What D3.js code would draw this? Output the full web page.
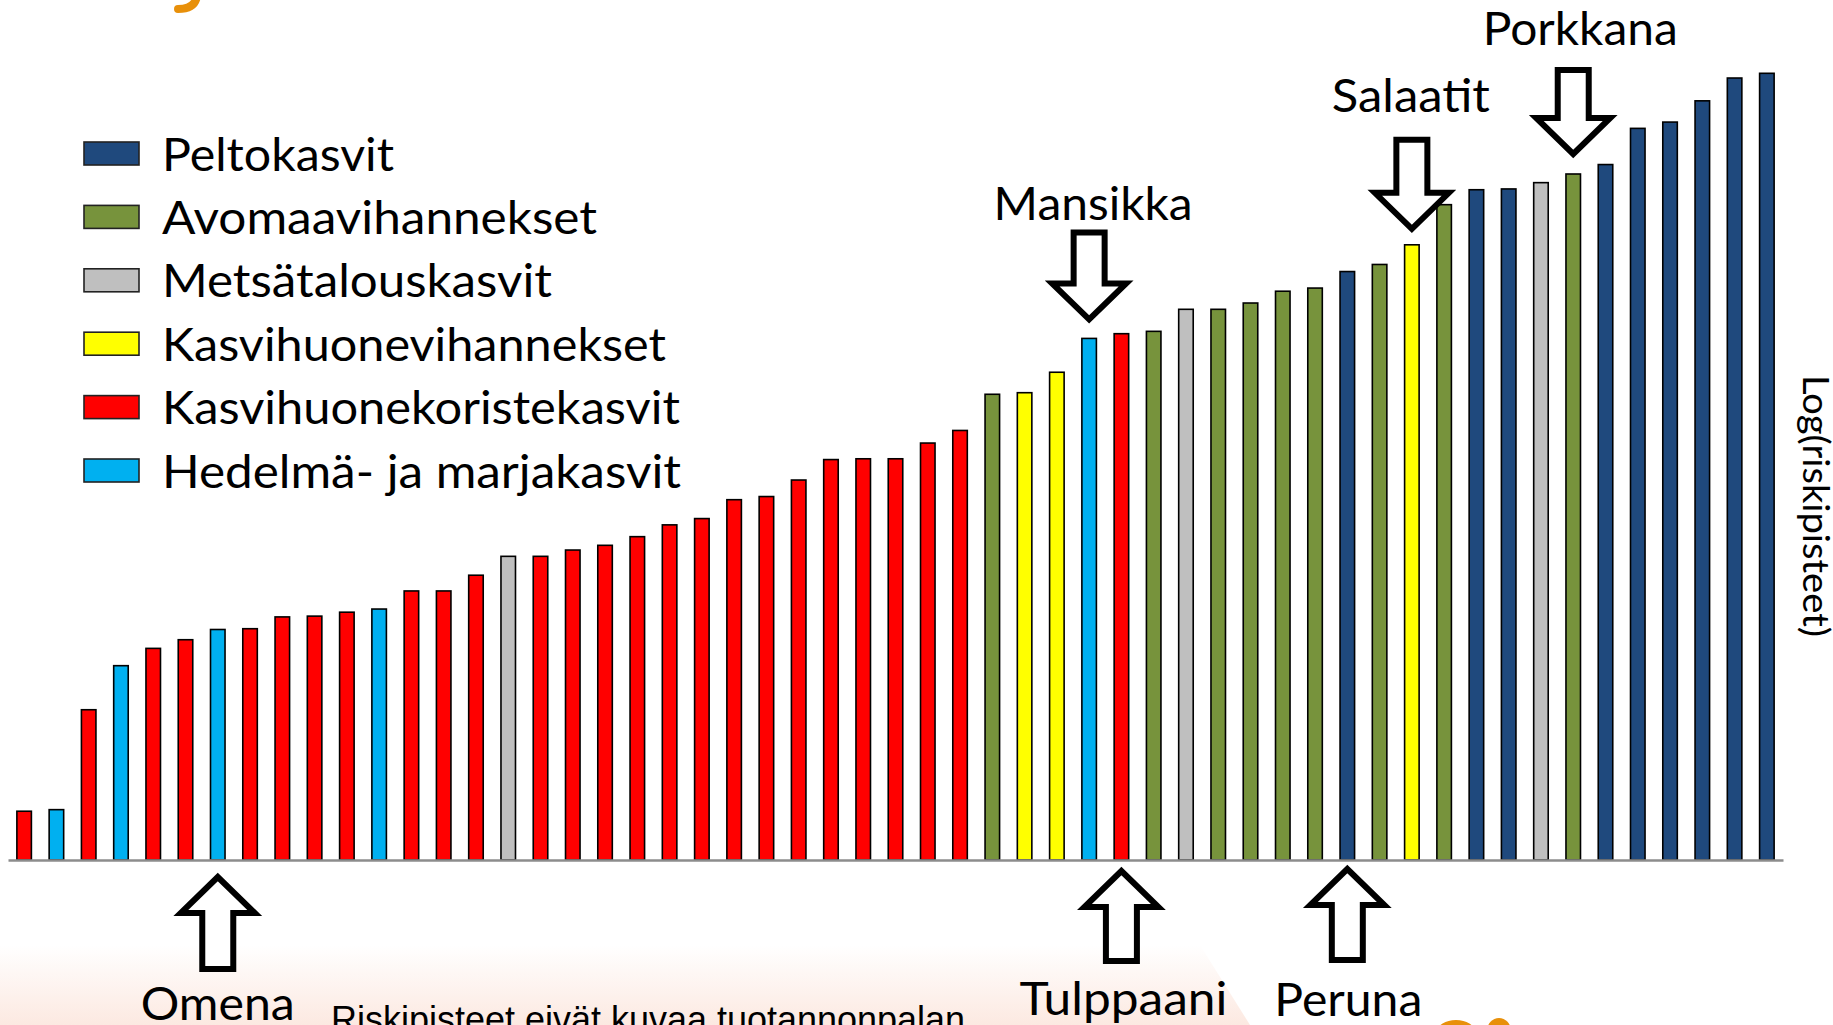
<!DOCTYPE html>
<html><head><meta charset="utf-8">
<script src="https://cdn.jsdelivr.net/npm/d3@7"></script>
<style>html,body{margin:0;padding:0;background:#fff;overflow:hidden}</style>
</head><body>
<svg id="chart" width="1833" height="1025"></svg>
<script>
// ---------- data ----------
const categories = ["Peltokasvit","Avomaavihannekset","Metsätalouskasvit","Kasvihuonevihannekset","Kasvihuonekoristekasvit","Hedelmä- ja marjakasvit"];
const categoryColors = ["#1F497D","#77933C","#BFBFBF","#FFFF00","#FF0000","#00B0F0"];
// category index of every bar (left to right)
const barCategory = [4,5,4,5,4,4,5,4,4,4,4,5,4,4,4,2,4,4,4,4,4,4,4,4,4,4,4,4,4,4,
                     1,3,3,5,4,1,2,1,1,1,1,0,1,3,1,0,0,2,1,0,0,0,0,0,0];
// log(riskipisteet), relative units (highest = 100)
const barValues = [6.2,6.4,19.1,24.7,26.9,28.0,29.3,29.4,30.9,31.0,
                   31.5,31.9,34.2,34.2,36.2,38.6,38.6,39.4,40.0,41.1,
                   42.6,43.4,45.8,46.2,48.3,50.9,51.0,51.0,53.0,54.6,
                   59.2,59.4,62.0,66.3,66.9,67.2,70.0,70.0,70.8,72.3,
                   72.7,74.8,75.7,78.2,83.3,85.2,85.3,86.1,87.2,88.4,
                   93.0,93.8,96.5,99.4,100.0];
const annotationLabels = ["Omena","Mansikka","Tulppaani","Peruna","Salaatit","Porkkana"];
const annotationBars = [6,33,34,41,43,48];
const annotationDirections = ["up","down","up","up","down","down"];
const yAxisTitle = "Log(riskipisteet)";
const footnote = "Riskipisteet eivät kuvaa tuotannonpalan";

// ---------- layout ----------
const W = 1833, H = 1025;
const svg = d3.select("#chart");
const FONT = "Lato, 'Open Sans', sans-serif";

const defs = svg.append("defs");
const grad = defs.append("linearGradient").attr("id","pinkGrad").attr("x1",0).attr("y1",0).attr("x2",0).attr("y2",1);
grad.append("stop").attr("offset","0%").attr("stop-color","#ffffff");
grad.append("stop").attr("offset","100%").attr("stop-color","#fce9e1");

svg.append("rect").attr("width",W).attr("height",H).attr("fill","#fff");
svg.append("path").attr("d","M0,945 L1200,945 L1250,1025 L0,1025 Z").attr("fill","url(#pinkGrad)");

// decorative orange fragments (slide template)
svg.append("path").attr("d","M197,-4 Q195,9 178,9").attr("fill","none").attr("stroke","#E8900A").attr("stroke-width",8).attr("stroke-linecap","round");
svg.append("ellipse").attr("cx",1456).attr("cy",1032).attr("rx",19).attr("ry",12).attr("fill","#E8900A");
svg.append("ellipse").attr("cx",1499).attr("cy",1031).attr("rx",12).attr("ry",13).attr("fill","#E8900A");

const x = d3.scaleBand().domain(d3.range(barValues.length)).range([8,1783]).paddingInner(0.55).paddingOuter(0.275);
const y = d3.scaleLinear().domain([0,100]).range([860,73.3]);

svg.append("g").selectAll("rect").data(barValues).join("rect")
  .attr("x",(d,i)=>x(i)).attr("y",d=>y(d))
  .attr("width",x.bandwidth()).attr("height",d=>y(0)-y(d))
  .attr("fill",(d,i)=>categoryColors[barCategory[i]])
  .attr("stroke","#000").attr("stroke-width",1.6);

const axis = svg.append("g").attr("transform",`translate(0,${y(0)})`)
  .call(d3.axisBottom(x).tickSize(0).tickFormat(""));
axis.select(".domain").attr("stroke","#8c8c8c").attr("stroke-width",2.5);

// legend
const legendTextLen = [232,435,390,504,518,519];
const lg = svg.append("g");
categories.forEach((c,i)=>{
  const ty = 142 + i*63.4;
  lg.append("rect").attr("x",84).attr("y",ty).attr("width",55).attr("height",23)
    .attr("fill",categoryColors[i]).attr("stroke","#222").attr("stroke-width",1.6);
  lg.append("text").attr("x",162).attr("y",ty+28.5).text(c)
    .attr("font-family",FONT).attr("font-size",46).attr("fill","#000")
    .attr("textLength",legendTextLen[i]).attr("lengthAdjust","spacingAndGlyphs");
});

// annotations
const annotLayout = {
  Omena:     {gap:17, len:92, labelY:1020, dx:0, tl:154},
  Mansikka:  {gap:19, len:87, labelY:220,  dx:4, tl:199},
  Tulppaani: {gap:11, len:90, labelY:1015, dx:2, tl:208},
  Peruna:    {gap:9,  len:91, labelY:1016, dx:1, tl:148},
  Salaatit:  {gap:16, len:89, labelY:112,  dx:-1, tl:158},
  Porkkana:  {gap:20, len:84, labelY:45,   dx:7, tl:195}
};
const headH = 36, shaftHW = 15.5, headHW = 37;
function arrowPoints(cx, tip, dir, len){
  const s = dir==="down" ? -1 : 1; // direction from tip towards tail
  return [[cx-shaftHW, tip+s*len],[cx+shaftHW, tip+s*len],[cx+shaftHW, tip+s*headH],
          [cx+headHW, tip+s*headH],[cx, tip],[cx-headHW, tip+s*headH],[cx-shaftHW, tip+s*headH]];
}
const ag = svg.append("g");
annotationLabels.forEach((lab,k)=>{
  const L = annotLayout[lab];
  const bi = annotationBars[k];
  const cx = x(bi) + x.bandwidth()/2;
  const dir = annotationDirections[k];
  const tip = dir==="down" ? y(barValues[bi]) - L.gap : y(0) + L.gap;
  ag.append("path").attr("d", d3.line()(arrowPoints(cx, tip, dir, L.len)) + "Z")
    .attr("fill","#fff").attr("stroke","#000").attr("stroke-width",6).attr("stroke-linejoin","miter");
  ag.append("text").attr("x",cx+L.dx).attr("y",L.labelY).text(lab)
    .attr("text-anchor","middle").attr("font-family",FONT).attr("font-size",46).attr("fill","#000")
    .attr("textLength",L.tl).attr("lengthAdjust","spacingAndGlyphs");
});

// y axis title (right side, rotated)
svg.append("text").attr("transform","translate(1803,375) rotate(90)").text(yAxisTitle)
  .attr("font-family",FONT).attr("font-size",36).attr("fill","#000")
  .attr("textLength",262).attr("lengthAdjust","spacingAndGlyphs");

// footnote (cut off at bottom)
svg.append("text").attr("x",331).attr("y",1032).text(footnote)
  .attr("font-family","'Liberation Sans', Arial, sans-serif").attr("font-size",36).attr("fill","#000")
  .attr("textLength",634).attr("lengthAdjust","spacingAndGlyphs");
</script>
</body></html>
